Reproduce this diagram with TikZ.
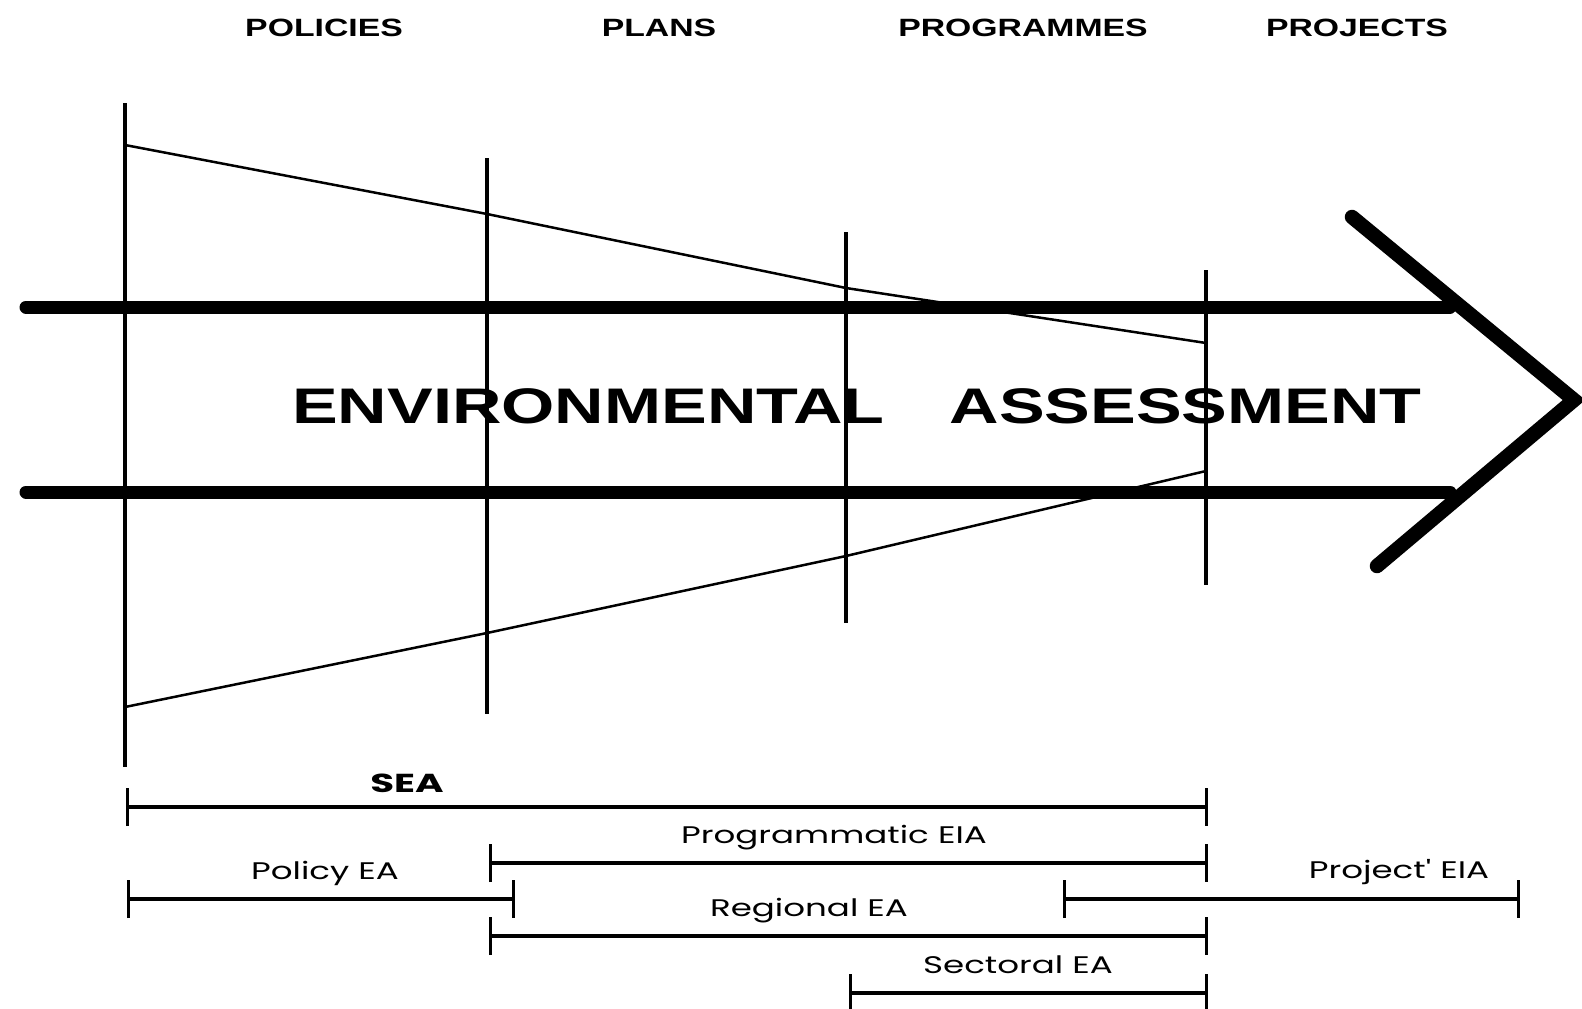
\documentclass[tikz,border=0pt]{standalone}
\usepackage{fontspec}
\setmainfont{Liberation Sans}
\newfontfamily{\gothic}{Poppins}
\usepackage{tikz}
\usetikzlibrary{arrows.meta, positioning}

\begin{document}
\begin{tikzpicture}[x=1pt, y=-1pt,
    stagehead/.style = {font=\fontsize{25}{30}\selectfont\bfseries, xscale=1.35, anchor=base, inner sep=0pt},
    banner/.style = {font=\fontsize{50}{60}\selectfont\bfseries, xscale=1.37, anchor=base, inner sep=0pt},
    lbl/.style = {font=\gothic\fontsize{24}{28}\selectfont, xscale=1.42, anchor=base, inner sep=0pt},
    stageline/.style = {line width=4.5pt},
    funnel/.style = {line width=2.5pt},
    band/.style = {line width=13pt, line cap=round},
    span/.style = {line width=3.2pt, {Bar[width=38pt]}-{Bar[width=38pt]}}]
    \useasboundingbox (0,0) rectangle (1582,1009);

    \node[stagehead] (pol) at (324,36) {POLICIES};
    \node[stagehead] (pla) at (659,36) {PLANS};
    \node[stagehead] (prg) at (1023,36) {PROGRAMMES};
    \node[stagehead] (prj) at (1357,36) {PROJECTS};

    \coordinate (s1t) at (125,103);  \coordinate (s1b) at (125,767);
    \coordinate (s2t) at (487,158);  \coordinate (s2b) at (487,714);
    \coordinate (s3t) at (846,232);  \coordinate (s3b) at (846,623);
    \coordinate (s4t) at (1206,270); \coordinate (s4b) at (1206,585);
    \draw[stageline] (s1t) -- (s1b);
    \draw[stageline] (s2t) -- (s2b);
    \draw[stageline] (s3t) -- (s3b);
    \draw[stageline] (s4t) -- (s4b);

    \coordinate (ft1) at (125,145); \coordinate (ft2) at (487,214);
    \coordinate (ft3) at (846,288); \coordinate (ft4) at (1206,343);
    \coordinate (fb1) at (125,707); \coordinate (fb2) at (487,633);
    \coordinate (fb3) at (846,556); \coordinate (fb4) at (1206,471);
    \draw[funnel] (ft1) -- (ft2) -- (ft3) -- (ft4);
    \draw[funnel] (fb1) -- (fb2) -- (fb3) -- (fb4);

    \coordinate (up1) at (26,307);  \coordinate (up2) at (1450,307);
    \coordinate (lo1) at (26,492);  \coordinate (lo2) at (1450,492);
    \coordinate (hd1) at (1352,217); \coordinate (tip) at (1574,400); \coordinate (hd2) at (1377,566);
    \draw[band] (up1) -- (up2);
    \draw[band] (lo1) -- (lo2);
    \draw[line width=14.5pt, line cap=round, miter limit=4] (hd1) -- (tip) -- (hd2);

    \node[banner] (ea) at (857,423) {ENVIRONMENTAL\hspace{0.95em}ASSESSMENT};

    \coordinate (sea1) at (126,807);  \coordinate (sea2) at (1208,807);
    \coordinate (pgm1) at (489,863);  \coordinate (pgm2) at (1208,863);
    \coordinate (pcy1) at (127,899);  \coordinate (pcy2) at (515,899);
    \coordinate (pjt1) at (1063,899); \coordinate (pjt2) at (1520,899);
    \coordinate (reg1) at (489,936);  \coordinate (reg2) at (1208,936);
    \coordinate (sec1) at (849,993);  \coordinate (sec2) at (1208,993);
    \draw[span] (sea1) -- (sea2);
    \draw[span] (pgm1) -- (pgm2);
    \draw[span] (pcy1) -- (pcy2);
    \draw[span] (pjt1) -- (pjt2);
    \draw[span] (reg1) -- (reg2);
    \draw[span] (sec1) -- (sec2);

    \node[lbl, font=\gothic\fontsize{26}{30}\selectfont\bfseries, xscale=1.05] (sea) at (407,792) {SEA};
    \node[lbl] (pgm) at (834,843) {Programmatic EIA};
    \node[lbl] (pcy) at (325,879) {Policy EA};
    \node[lbl] (pjt) at (1399,878) {Project' EIA};
    \node[lbl] (reg) at (809,916) {Regional EA};
    \node[lbl] (sec) at (1018,973) {Sectoral EA};
\end{tikzpicture}
\end{document}
